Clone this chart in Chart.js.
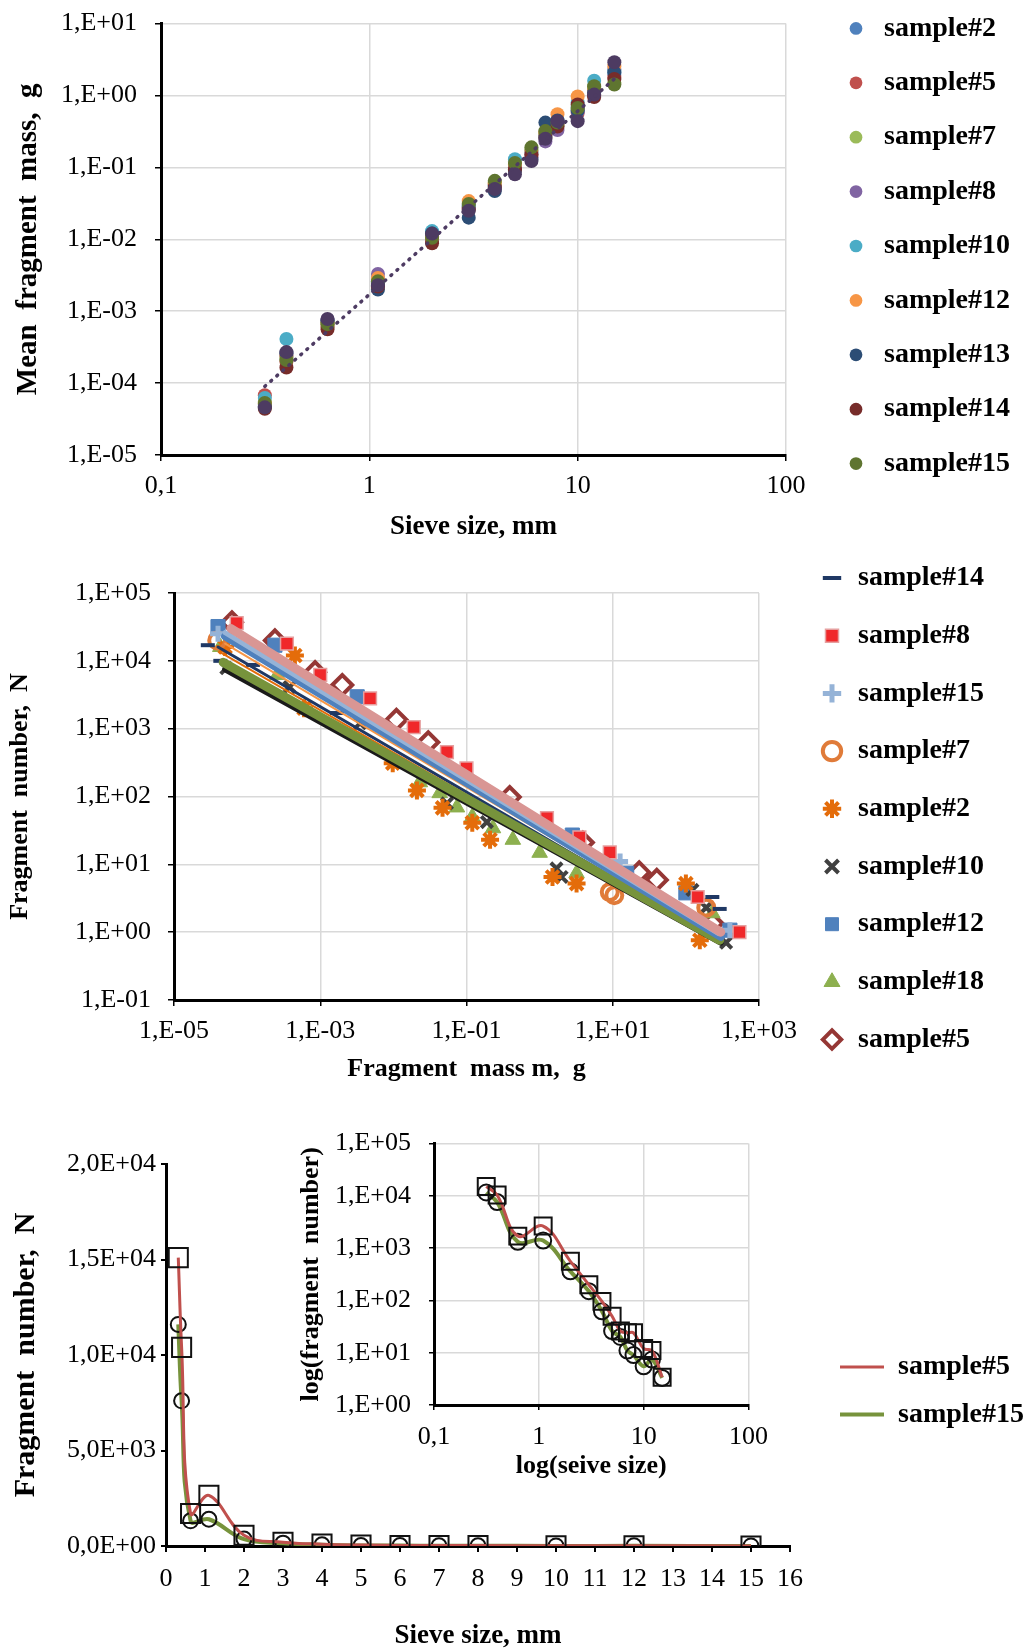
<!DOCTYPE html>
<html>
<head>
<meta charset="utf-8">
<script src="https://cdn.jsdelivr.net/npm/chart.js@4.4.1/dist/chart.umd.min.js"></script>
<style>
  html, body { margin: 0; padding: 0; background: #fff; }
  #page { position: relative; width: 1028px; height: 1652px; overflow: hidden; }
  .box { position: absolute; }
</style>
</head>
<body>
<div id="page">
  <div class="box" style="left:0;top:-10px;width:1028px;height:560px"><canvas id="massChart"></canvas></div>
  <div class="box" style="left:0;top:545px;width:1028px;height:560px"><canvas id="numberChart"></canvas></div>
  <div class="box" style="left:0;top:1100px;width:1028px;height:552px"><canvas id="linChart"></canvas></div>
  <div class="box" style="left:290px;top:1110px;width:490px;height:380px"><canvas id="insetChart"></canvas></div>
</div>
<script>
"use strict";

// ---- top panel: mean fragment mass vs sieve size ----
const sieve = [0.315, 0.4, 0.63, 1.1, 2, 3, 4, 5, 6, 7, 8, 10, 12, 15];

const meanMass2  = [5.0e-5, 2.3e-4, 7.0e-4, 2.6e-3, 1.15e-2, 2.8e-2, 5.5e-2, 0.12, 0.16, 0.30, 0.42, 0.70, 1.2, 2.0];
const meanMass5  = [6.8e-5, 2.0e-4, 6.2e-4, 2.4e-3, 1.0e-2, 2.7e-2, 5.8e-2, 0.10, 0.15, 0.28, 0.40, 0.57, 1.0, 1.8];
const meanMass7  = [5.5e-5, 2.2e-4, 6.8e-4, 2.8e-3, 1.1e-2, 3.2e-2, 6.2e-2, 0.12, 0.18, 0.30, 0.38, 0.65, 1.3, 1.5];
const meanMass8  = [4.8e-5, 2.5e-4, 7.5e-4, 3.3e-3, 1.2e-2, 3.0e-2, 5.0e-2, 0.10, 0.14, 0.23, 0.33, 0.60, 1.1, 2.3];
const meanMass10 = [6.2e-5, 4.1e-4, 7.2e-4, 2.5e-3, 1.3e-2, 2.9e-2, 5.6e-2, 0.13, 0.17, 0.27, 0.45, 0.80, 1.6, 2.2];
const meanMass12 = [5.2e-5, 2.4e-4, 7.0e-4, 2.9e-3, 1.1e-2, 3.4e-2, 6.0e-2, 0.11, 0.17, 0.31, 0.55, 0.97, 1.2, 2.55];
const meanMass13 = [4.7e-5, 2.6e-4, 7.4e-4, 2.0e-3, 1.2e-2, 2.0e-2, 4.7e-2, 0.09, 0.13, 0.42, 0.45, 0.62, 1.1, 2.1];
const meanMass14 = [4.4e-5, 1.65e-4, 5.6e-4, 2.2e-3, 8.8e-3, 2.6e-2, 5.3e-2, 0.094, 0.15, 0.26, 0.37, 0.75, 0.95, 1.7];
const meanMass15 = [5.3e-5, 2.1e-4, 6.6e-4, 2.6e-3, 1.05e-2, 3.1e-2, 6.5e-2, 0.115, 0.19, 0.32, 0.42, 0.67, 1.35, 1.42];
const meanMassAvg = [4.6e-5, 2.7e-4, 7.8e-4, 2.3e-3, 1.2e-2, 2.5e-2, 5.0e-2, 0.08, 0.123, 0.25, 0.44, 0.44, 1.03, 2.9];
const trendSize = [0.315, 15];
const trendMass = [9e-5, 1.7];

const massLabels = ['sample#2', 'sample#5', 'sample#7', 'sample#8', 'sample#10',
                    'sample#12', 'sample#13', 'sample#14', 'sample#15'];
const massSeries = [meanMass2, meanMass5, meanMass7, meanMass8, meanMass10,
                    meanMass12, meanMass13, meanMass14, meanMass15];
const massColors = ['#4F81BD', '#C0504D', '#9BBB59', '#8064A2', '#4BACC6',
                    '#F79646', '#2C4D75', '#772C2A', '#5F7530'];

// ---- middle panel: fragment number vs fragment mass ----
const numLabels = ['sample#14', 'sample#8', 'sample#15', 'sample#7', 'sample#2',
                   'sample#10', 'sample#12', 'sample#18', 'sample#5'];
const fragMass14 = [2.9e-5, 4.3e-5, 1.2e-4, 1.7e-3, 230, 290];
const fragNum14  = [1.7e4, 1.0e4, 8.7e3, 1.7e3, 3.3, 2.2];
const fragMass8  = [7.2e-5, 3.5e-4, 1.0e-3, 4.8e-3, 1.9e-2, 5.4e-2, 0.1, 1.26, 3.5, 9.1, 145, 540];
const fragNum8   = [3.6e4, 1.8e4, 6.2e3, 2.8e3, 1.05e3, 450, 260, 48, 25, 15, 3.3, 1.0];
const fragMass15 = [4.0e-5, 12.6, 400];
const fragNum15  = [2.5e4, 11, 1.07];
const fragMass7  = [3.9e-5, 9.1, 10.5, 190];
const fragNum7   = [2.0e4, 3.9, 3.5, 2.3];
const fragMass2  = [5.0e-5, 4.5e-4, 6.0e-4, 9.8e-3, 2.1e-2, 4.7e-2, 0.12, 0.21, 1.5, 3.2, 100, 155];
const fragNum2   = [1.6e4, 1.2e4, 2.0e3, 310, 123, 68, 41, 23, 6.5, 5.2, 5.2, 0.76];
const fragMass10 = [5.2e-5, 3.8e-4, 3.5e-3, 5.4e-2, 0.19, 1.7, 2.0, 123, 190, 355];
const fragNum10  = [7.8e3, 4.1e3, 1.2e3, 79, 42, 8.7, 6.5, 4.2, 2.3, 0.7];
const fragMass12 = [4.0e-5, 2.4e-4, 3.2e-3, 2.8, 15.5, 100, 400];
const fragNum12  = [3.2e4, 1.7e4, 2.95e3, 27, 7.4, 3.8, 1.07];
const fragMass18 = [4.3e-5, 2.6e-4, 2.3e-2, 4.3e-2, 7.4e-2, 0.12, 0.23, 0.43, 1.0, 3.2, 230];
const fragNum18  = [1.6e4, 6.2e3, 162, 112, 69, 50, 34, 23, 14.8, 7.4, 1.9];
const fragMass5  = [6.2e-5, 2.4e-4, 8.5e-4, 2.0e-3, 1.1e-2, 3.0e-2, 0.39, 3.9, 23, 40, 230];
const fragNum5   = [3.7e4, 2.0e4, 6.8e3, 4.4e3, 1.35e3, 630, 98, 21, 7.6, 5.9, 1.35];

// power-law fit lines, one per sample (same order as numLabels)
const fitMassLo = [4e-5, 6e-5, 5e-5, 4.5e-5, 5e-5, 5e-5, 5e-5, 4.7e-5, 6e-5];
const fitMassHi = [300, 300, 280, 250, 280, 300, 300, 290, 300];
const fitNumLo  = [1.6e4, 3.0e4, 2.6e4, 1.3e4, 1.8e4, 7.5e3, 2.3e4, 9.5e3, 2.8e4];
const fitNumHi  = [0.75, 1.0, 0.95, 0.8, 0.85, 0.7, 0.85, 0.76, 1.0];

// ---- bottom panel: fragment number vs sieve size ----
const count5  = [15100, 10400, 1700, 2650, 560, 200, 96, 50, 26, 24, 24, 12, 11, 3.4];
const count15 = [11600, 7600, 1320, 1400, 360, 150, 62, 26, 20, 11, 9, 5.5, 7.4, 3.3];

const linXTicks = [0, 16];      // range of sieve size axis
const linYTicks = [0, 20000];   // range of fragment number axis


Chart.defaults.font.family = '"Liberation Serif", "Times New Roman", serif';
Chart.defaults.font.size = 26;
Chart.defaults.color = '#000';
Chart.defaults.animation = false;

const GRID = '#D9D9D9';

function isDecade(v) {
    const e = Math.log10(v);
    return Math.abs(e - Math.round(e)) < 1e-6;
}
function sciLabel(v) {
    const e = Math.round(Math.log10(v));
    return '1,E' + (e < 0 ? '-' : '+') + String(Math.abs(e)).padStart(2, '0');
}
function commaLabel(v) {
    return String(Number(v.toPrecision(6))).replace('.', ',');
}
function mantLabel(v) {
    if (v === 0) return '0,0E+00';
    const e = Math.floor(Math.log10(v) + 1e-9);
    return (v / Math.pow(10, e)).toFixed(1).replace('.', ',') + 'E+' + String(e).padStart(2, '0');
}
const decadeOnly = scale => { scale.ticks = scale.ticks.filter(t => isDecade(t.value)); };
const oddDecadeOnly = scale => {
    scale.ticks = scale.ticks.filter(t => isDecade(t.value) && Math.abs(Math.round(Math.log10(t.value))) % 2 === 1);
};
const fixWidth = w => scale => { scale.width = w; };
const fixHeight = h => scale => { scale.height = h; };

function toPoints(xs, ys) {
    return xs.map((x, i) => ({x, y: ys[i]}));
}

// puts the legend at a fixed spot instead of where the layout leaves it
const placeLegend = {
    id: 'placeLegend',
    afterLayout(chart, args, opts) {
        const lg = chart.legend;
        if (!lg || opts.x === undefined) return;
        const pad = lg.options.labels.padding;
        lg.left = opts.x - pad;
        lg.right = chart.width;
        lg.width = lg.right - lg.left;
        lg.top = opts.y - pad;
        lg.bottom = chart.height;
        lg.height = lg.bottom - lg.top;
    }
};

function logAxis(min, max, o) {
    return {
        type: 'logarithmic',
        min, max,
        afterBuildTicks: o.only || decadeOnly,
        afterFit: o.fit,
        ticks: {autoSkip: false, padding: o.pad, callback: o.fmt, font: {size: 26}, maxRotation: 0},
        grid: {color: GRID, lineWidth: 1.5, tickLength: o.tick || 6, tickColor: '#000'},
        border: {color: '#000', width: 3},
        title: {display: true, text: o.title, font: {size: o.titleSize || 26, weight: 'bold'}, padding: o.titlePad}
    };
}


// ---- top panel ----
function createMassChart() {
    const datasets = massSeries.map((vals, i) => ({
        label: massLabels[i],
        data: toPoints(sieve, vals),
        backgroundColor: massColors[i],
        borderColor: massColors[i],
        pointRadius: 7,
        pointBorderWidth: 0,
        order: 20 - i,
    }));
    datasets.push({
        label: 'mean',
        data: toPoints(sieve, meanMassAvg),
        backgroundColor: '#4D3B62',
        borderColor: '#4D3B62',
        pointRadius: 7,
        pointBorderWidth: 0,
        order: 3,
    });
    datasets.push({
        label: 'trend',
        data: toPoints(trendSize, trendMass),
        showLine: true,
        pointRadius: 0,
        borderColor: '#4D3B62',
        borderWidth: 3.5,
        borderDash: [1, 7],
        borderCapStyle: 'round',
        order: 2,
    });
    return new Chart(document.getElementById('massChart'), {
        type: 'scatter',
        data: {datasets},
        plugins: [placeLegend],
        options: {
            responsive: true,
            maintainAspectRatio: false,
            devicePixelRatio: 1,
            layout: {padding: {top: 33, right: 182, left: 0, bottom: 0}},
            scales: {
                x: logAxis(0.1, 100, {fit: fixHeight(95), pad: 10, fmt: commaLabel,
                    title: 'Sieve size, mm', titleSize: 27, titlePad: {top: 0, bottom: 7}}),
                y: logAxis(1e-5, 10, {fit: fixWidth(161), pad: 18, fmt: sciLabel,
                    title: 'Mean  fragment  mass,  g', titleSize: 29, titlePad: {top: 11, bottom: 0}}),
            },
            plugins: {
                tooltip: {enabled: false},
                placeLegend: {x: 842, y: 24.4},
                legend: {
                    position: 'right',
                    align: 'start',
                    maxWidth: 60,
                    labels: {
                        usePointStyle: true,
                        boxWidth: 28,
                        boxHeight: 9,
                        padding: 26.4,
                        font: {size: 28, weight: 'bold'},
                        filter: item => item.datasetIndex < 9,
                        sort: (a, b) => a.datasetIndex - b.datasetIndex,
                    }
                }
            }
        }
    });
}


// ---- middle panel ----
function createNumberChart() {
    const markMass = [fragMass14, fragMass8, fragMass15, fragMass7, fragMass2, fragMass10, fragMass12, fragMass18, fragMass5];
    const markNum = [fragNum14, fragNum8, fragNum15, fragNum7, fragNum2, fragNum10, fragNum12, fragNum18, fragNum5];
    const markStyle = [
        {pointStyle: 'line', backgroundColor: '#1F3864', borderColor: '#1F3864', pointBorderWidth: 4, pointRadius: 7},
        {pointStyle: 'rect', backgroundColor: '#F0282A', borderColor: '#E6A0A0', pointBorderWidth: 1.5, pointRadius: 9},
        {pointStyle: 'cross', backgroundColor: '#95B3D7', borderColor: '#95B3D7', pointBorderWidth: 5, pointRadius: 8},
        {pointStyle: 'circle', backgroundColor: 'rgba(255,255,255,0)', borderColor: '#E07B39', pointBorderWidth: 4, pointRadius: 8},
        {pointStyle: 'star', backgroundColor: '#E46C0A', borderColor: '#E46C0A', pointBorderWidth: 4, pointRadius: 9},
        {pointStyle: 'crossRot', backgroundColor: '#404040', borderColor: '#404040', pointBorderWidth: 4, pointRadius: 8},
        {pointStyle: 'rect', backgroundColor: '#4F81BD', borderColor: '#4F81BD', pointBorderWidth: 1, pointRadius: 10},
        {pointStyle: 'triangle', backgroundColor: '#8DB04F', borderColor: '#8DB04F', pointBorderWidth: 1, pointRadius: 9},
        {pointStyle: 'rectRot', backgroundColor: 'rgba(255,255,255,0)', borderColor: '#953735', pointBorderWidth: 4, pointRadius: 10},
    ];
    const lineColors = ['#1F3864', '#D99694', '#95B3D7', '#E46C0A', '#F79646', '#1A1A1A', '#4F81BD', '#77933C', '#953735'];
    const lineWidths = [3, 9, 5, 2, 2, 6, 8, 9, 2.5];
    const lineOrder = [7, 0, 1, 6, 5, 8, 2, 4, 3];

    const datasets = markStyle.map((st, i) => Object.assign({
        label: numLabels[i],
        data: toPoints(markMass[i], markNum[i]),
        order: 20 + i,
    }, st));
    numLabels.forEach((lab, i) => {
        datasets.push({
            label: lab + ' fit',
            data: toPoints([fitMassLo[i], fitMassHi[i]], [fitNumLo[i], fitNumHi[i]]),
            showLine: true,
            pointRadius: 0,
            borderColor: lineColors[i],
            borderWidth: lineWidths[i],
            borderCapStyle: 'round',
            order: lineOrder[i],
        });
    });
    return new Chart(document.getElementById('numberChart'), {
        type: 'scatter',
        data: {datasets},
        plugins: [placeLegend],
        options: {
            responsive: true,
            maintainAspectRatio: false,
            devicePixelRatio: 1,
            layout: {padding: {top: 48, right: 209, left: 0, bottom: 0}},
            scales: {
                x: logAxis(1e-5, 1e3, {only: oddDecadeOnly, fit: fixHeight(105), pad: 10, fmt: sciLabel,
                    title: 'Fragment  mass m,  g', titlePad: {top: 0, bottom: 20}}),
                y: logAxis(0.1, 1e5, {fit: fixWidth(174), pad: 17, fmt: sciLabel,
                    title: 'Fragment  number,  N', titlePad: {top: 5, bottom: 0}}),
            },
            plugins: {
                tooltip: {enabled: false},
                placeLegend: {x: 820, y: 19},
                legend: {
                    position: 'right',
                    align: 'start',
                    maxWidth: 60,
                    labels: {
                        usePointStyle: true,
                        boxWidth: 24,
                        boxHeight: 13,
                        padding: 29.7,
                        font: {size: 28, weight: 'bold'},
                        filter: item => item.datasetIndex < 9,
                        sort: (a, b) => a.datasetIndex - b.datasetIndex,
                    }
                }
            }
        }
    });
}


// ---- bottom panel ----
function countDatasets(squareR, circleR) {
    return [{
        label: 'sample#5',
        data: toPoints(sieve, count5),
        borderColor: '#C0504D',
        borderWidth: 3,
        tension: 0.4,
        pointStyle: 'rect',
        pointRadius: squareR,
        pointBorderColor: '#111',
        pointBackgroundColor: 'rgba(255,255,255,0)',
        pointBorderWidth: 2,
    }, {
        label: 'sample#15',
        data: toPoints(sieve, count15),
        borderColor: '#77933C',
        borderWidth: 4,
        tension: 0.4,
        pointStyle: 'circle',
        pointRadius: circleR,
        pointBorderColor: '#111',
        pointBackgroundColor: 'rgba(255,255,255,0)',
        pointBorderWidth: 2,
    }];
}

function createLinChart() {
    return new Chart(document.getElementById('linChart'), {
        type: 'line',
        data: {datasets: countDatasets(13.5, 7.5)},
        plugins: [placeLegend],
        options: {
            responsive: true,
            maintainAspectRatio: false,
            devicePixelRatio: 1,
            layout: {padding: {top: 64, right: 178, left: 0, bottom: 0}},
            scales: {
                x: {
                    type: 'linear',
                    min: linXTicks[0], max: linXTicks[1],
                    afterFit: fixHeight(106),
                    ticks: {stepSize: 1, autoSkip: false, padding: 12, maxRotation: 0},
                    grid: {drawOnChartArea: false, tickLength: 6, color: '#000', lineWidth: 2},
                    border: {color: '#000', width: 3},
                    title: {display: true, text: 'Sieve size, mm', font: {size: 27, weight: 'bold'}, padding: {top: 0, bottom: 0}}
                },
                y: {
                    type: 'linear',
                    min: linYTicks[0], max: linYTicks[1],
                    afterFit: fixWidth(166),
                    ticks: {stepSize: 5000, padding: 5, callback: mantLabel},
                    grid: {drawOnChartArea: false, tickLength: 5, color: '#000', lineWidth: 2},
                    border: {color: '#000', width: 3},
                    title: {display: true, text: 'Fragment  number,  N', font: {size: 30, weight: 'bold'}, padding: {top: 8, bottom: 0}}
                }
            },
            plugins: {
                tooltip: {enabled: false},
                placeLegend: {x: 840, y: 253},
                legend: {
                    position: 'right',
                    align: 'start',
                    maxWidth: 60,
                    labels: {
                        usePointStyle: true,
                        pointStyleWidth: 44,
                        boxHeight: 10,
                        padding: 19.4,
                        font: {size: 28, weight: 'bold'},
                        generateLabels: chart => chart.data.datasets.map((d, i) => ({
                            text: d.label,
                            datasetIndex: i,
                            pointStyle: 'line',
                            strokeStyle: d.borderColor,
                            fillStyle: d.borderColor,
                            lineWidth: d.borderWidth,
                            fontColor: '#000',
                            hidden: false,
                        })),
                    }
                }
            }
        }
    });
}

function createInsetChart() {
    return new Chart(document.getElementById('insetChart'), {
        type: 'line',
        data: {datasets: countDatasets(12, 8)},
        options: {
            responsive: true,
            maintainAspectRatio: false,
            devicePixelRatio: 1,
            layout: {padding: {top: 30, right: 18, left: 0, bottom: 0}},
            scales: {
                x: logAxis(0.1, 100, {fit: fixHeight(85), pad: 12, tick: 5, fmt: commaLabel,
                    title: 'log(seive size)', titlePad: {top: 0, bottom: 8}}),
                y: logAxis(1, 1e5, {fit: fixWidth(144), pad: 18, tick: 5, fmt: sciLabel,
                    title: 'log(fragment  number)', titlePad: {top: 6, bottom: 0}}),
            },
            plugins: {
                tooltip: {enabled: false},
                legend: {display: false}
            }
        }
    });
}

createMassChart();
createNumberChart();
createLinChart();
createInsetChart();
</script>
</body>
</html>
